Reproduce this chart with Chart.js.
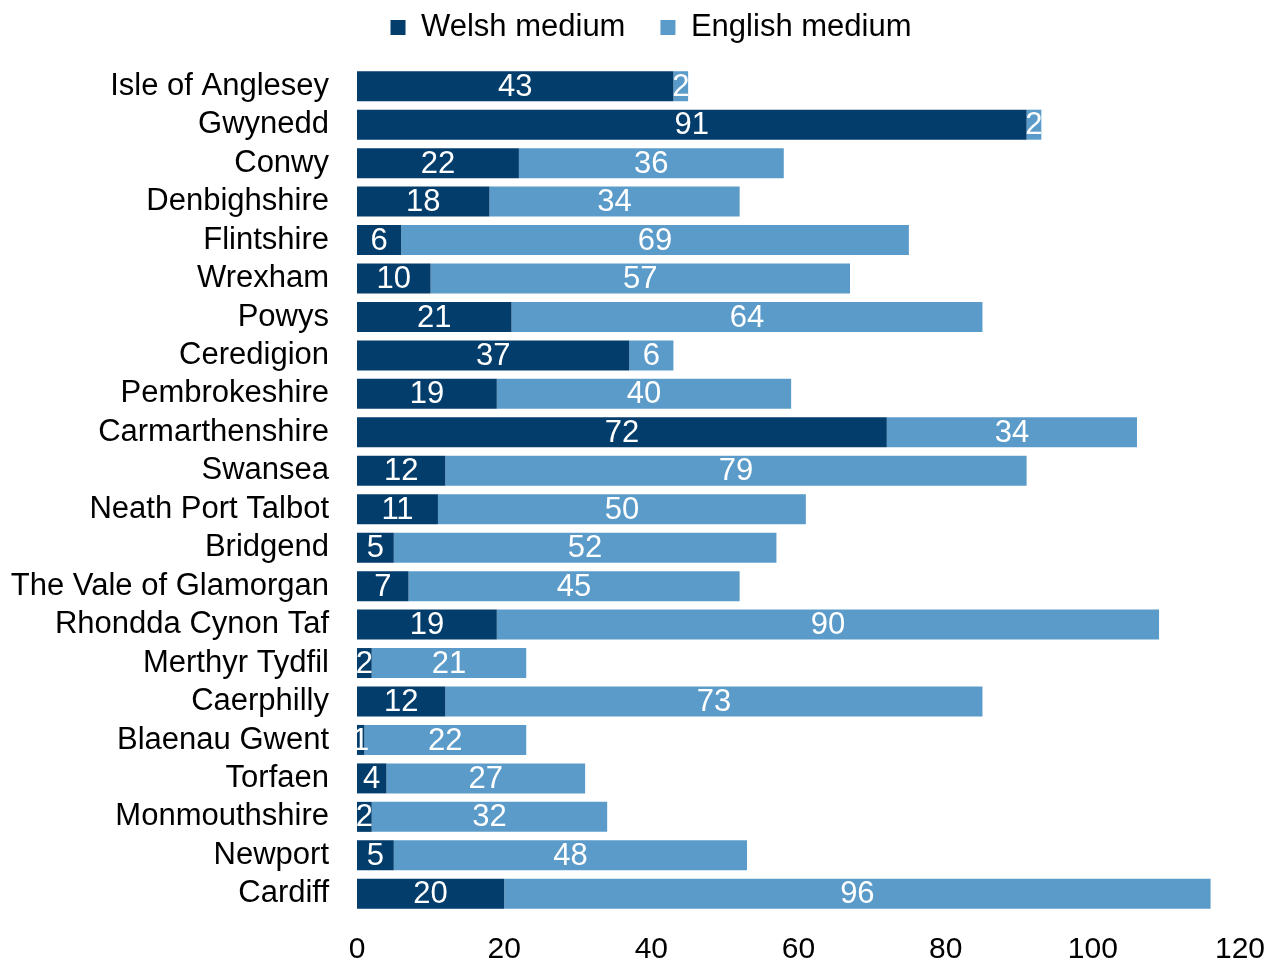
<!DOCTYPE html>
<html>
<head>
<meta charset="utf-8">
<title>Welsh and English medium</title>
<script src="https://cdn.jsdelivr.net/npm/chart.js@4.4.0/dist/chart.umd.min.js"></script>
<style>
  body { margin: 0; background: #fff; }
  canvas { display: block; }
</style>
</head>
<body>
<canvas id="myChart" width="1275" height="962"></canvas>
<script>
// data
const areas = ['Isle of Anglesey', 'Gwynedd', 'Conwy', 'Denbighshire', 'Flintshire', 'Wrexham',
  'Powys', 'Ceredigion', 'Pembrokeshire', 'Carmarthenshire', 'Swansea', 'Neath Port Talbot',
  'Bridgend', 'The Vale of Glamorgan', 'Rhondda Cynon Taf', 'Merthyr Tydfil', 'Caerphilly',
  'Blaenau Gwent', 'Torfaen', 'Monmouthshire', 'Newport', 'Cardiff'];
const welsh = [43, 91, 22, 18, 6, 10, 21, 37, 19, 72, 12, 11, 5, 7, 19, 2, 12, 1, 4, 2, 5, 20];
const english = [2, 2, 36, 34, 69, 57, 64, 6, 40, 34, 79, 50, 52, 45, 90, 21, 73, 22, 27, 32, 48, 96];
const xTicks = [0, 20, 40, 60, 80, 100, 120];

const font = 'Liberation Sans, Arial, sans-serif';

// white numbers in the middle of each segment
const barLabels = {
  id: 'barLabels',
  afterDatasetsDraw(chart) {
    const c = chart.ctx;
    c.save();
    c.fillStyle = '#fff';
    c.font = '31px ' + font;
    c.textAlign = 'center';
    c.textBaseline = 'middle';
    chart.data.datasets.forEach((ds, i) => {
      chart.getDatasetMeta(i).data.forEach((bar, j) => {
        c.fillText(ds.data[j], (bar.x + bar.base) / 2, bar.y + 1);
      });
    });
    c.restore();
  }
};

// legend: fixed height, nudged right and up
const legendPlace = {
  id: 'legendPlace',
  beforeInit(chart) {
    const fit = chart.legend.fit;
    chart.legend.fit = function () {
      fit.call(this);
      this.height = 67;
    };
  },
  afterLayout(chart) {
    const lg = chart.legend;
    lg.left += 31;
    lg.right += 31;
    lg.top -= 23;
    lg.bottom -= 23;
  }
};

const ctx = document.getElementById('myChart').getContext('2d');

const myChart = new Chart(ctx, {
  type: 'bar',
  data: {
    labels: areas,
    datasets: [
      { label: 'Welsh medium', data: welsh, backgroundColor: '#033d6b' },
      { label: 'English medium', data: english, backgroundColor: '#5b9bc9' }
    ]
  },
  options: {
    indexAxis: 'y',
    responsive: false,
    animation: false,
    layout: { padding: { left: 0, right: 35, top: 0, bottom: 0 } },
    categoryPercentage: 1,
    barPercentage: 0.78,
    plugins: {
      legend: {
        position: 'top',
        labels: {
          color: '#000',
          font: { family: font, size: 31 },
          boxWidth: 15,
          boxHeight: 15,
          padding: 35
        }
      },
      tooltip: { enabled: false }
    },
    scales: {
      x: {
        stacked: true,
        min: 0,
        max: 120,
        afterBuildTicks(axis) {
          axis.ticks = xTicks.map(v => ({ value: v }));
        },
        afterFit(axis) {
          axis.height = 49;
          axis.paddingLeft = 0;
          axis.paddingRight = 0;
        },
        grid: { display: false, drawTicks: false },
        border: { display: false },
        ticks: { color: '#000', font: { family: font, size: 30 }, padding: 19, maxRotation: 0 }
      },
      y: {
        stacked: true,
        afterFit(axis) { axis.width = 357; },
        grid: { display: false, drawTicks: false },
        border: { display: false },
        ticks: { color: '#000', font: { family: font, size: 31 }, padding: 28, autoSkip: false }
      }
    }
  },
  plugins: [barLabels, legendPlace]
});
</script>
</body>
</html>
